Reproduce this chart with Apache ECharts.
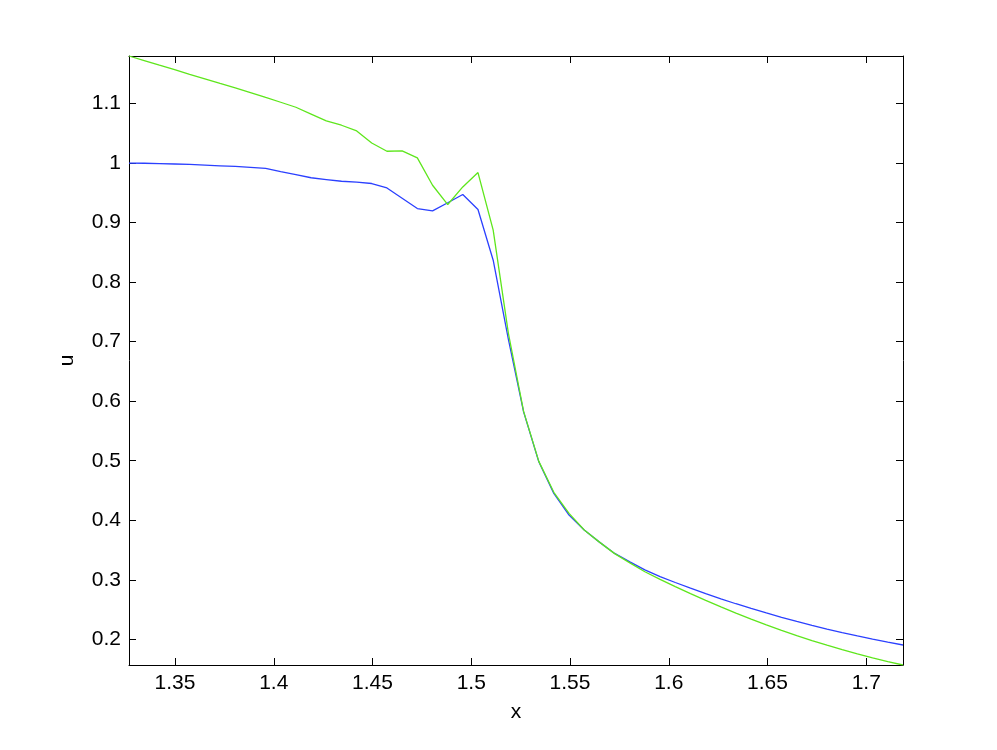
<!DOCTYPE html>
<html>
<head>
<meta charset="utf-8">
<script src="https://cdn.jsdelivr.net/npm/echarts@6/dist/echarts.min.js"></script>
<style>html,body{margin:0;padding:0;background:#fff}#c{width:997px;height:750px}</style>
</head>
<body>
<div id="c"></div>
<script>
const xValues = [1.3267,1.3344,1.3421,1.3498,1.3574,1.3651,1.3728,1.3805,1.3882,1.3959,
  1.4035,1.4112,1.4189,1.4266,1.4343,1.4420,1.4496,1.4573,1.4650,1.4727,
  1.4804,1.4881,1.4957,1.5034,1.5111,1.5188,1.5265,1.5342,1.5418,1.5495,
  1.5572,1.5649,1.5726,1.5803,1.5879,1.5956,1.6033,1.6110,1.6187,1.6264,
  1.6340,1.6417,1.6494,1.6571,1.6648,1.6725,1.6801,1.6878,1.6955,1.7032,
  1.7109,1.7186];
const blueU = [1.0000,0.9997,0.9992,0.9985,0.9977,0.9966,0.9955,0.9944,0.9929,0.9912,
  0.9855,0.9805,0.9754,0.9724,0.9695,0.9679,0.9657,0.9583,0.9410,0.9237,
  0.9197,0.9334,0.9472,0.9220,0.8369,0.7040,0.5820,0.4982,0.4452,0.4087,
  0.3836,0.3633,0.3443,0.3302,0.3168,0.3055,0.2955,0.2860,0.2768,0.2681,
  0.2598,0.2519,0.2443,0.2371,0.2301,0.2235,0.2172,0.2112,0.2058,0.2005,
  0.1954,0.1905];
const greenU = [1.1799,1.1722,1.1645,1.1569,1.1492,1.1416,1.1339,1.1264,1.1185,1.1102,
  1.1022,1.0938,1.0824,1.0708,1.0636,1.0540,1.0338,1.0199,1.0204,1.0087,
  0.9628,0.9304,0.9600,0.9841,0.8873,0.7140,0.5830,0.4990,0.4470,0.4116,
  0.3836,0.3633,0.3440,0.3285,0.3136,0.3008,0.2886,0.2768,0.2655,0.2546,
  0.2441,0.2340,0.2244,0.2152,0.2064,0.1980,0.1901,0.1826,0.1755,0.1689,
  0.1627,0.1569];
const xTicks = [1.35,1.4,1.45,1.5,1.55,1.6,1.65,1.7];
const yTicks = [0.2,0.3,0.4,0.5,0.6,0.7,0.8,0.9,1.0,1.1];
const xRange = [1.3267, 1.7186];
const yRange = [0.1569, 1.1799];

const font = 'Liberation Sans, Arial, Helvetica, sans-serif';
const lineStyleAxis = {color:'#000', width:1};
function axisBase(extra){
  return Object.assign({
    type:'value',
    splitLine:{show:false},
    axisLine:{show:true, onZero:false, lineStyle:lineStyleAxis},
    axisTick:{show:true, inside:true, length:7, lineStyle:lineStyleAxis},
  }, extra);
}
const chart = echarts.init(document.getElementById('c'), null, {renderer:'canvas'});
chart.setOption({
  backgroundColor:'#fff',
  animation:false,
  grid:{left:129, right:94, top:56, bottom:85, containLabel:false},
  xAxis:[
    axisBase({position:'bottom', min:xRange[0], max:xRange[1],
      name:'x', nameLocation:'middle', nameGap:37,
      nameTextStyle:{fontFamily:font, fontSize:21, color:'#000'},
      axisTick:{show:true, inside:true, length:7, lineStyle:lineStyleAxis, customValues:xTicks},
      axisLabel:{show:true, margin:8, fontFamily:font, fontSize:21, color:'#000', customValues:xTicks,
        formatter:v=>String(+v.toFixed(2))}}),
    axisBase({position:'top', min:xRange[0], max:xRange[1],
      axisTick:{show:true, inside:true, length:7, lineStyle:lineStyleAxis, customValues:xTicks},
      axisLabel:{show:false}})
  ],
  yAxis:[
    axisBase({position:'left', min:yRange[0], max:yRange[1],
      name:'u', nameLocation:'middle', nameGap:51,
      nameTextStyle:{fontFamily:font, fontSize:21, color:'#000'},
      axisTick:{show:true, inside:true, length:7, lineStyle:lineStyleAxis, customValues:yTicks},
      axisLabel:{show:true, margin:8, fontFamily:font, fontSize:21, color:'#000', customValues:yTicks,
        formatter:v=>String(+v.toFixed(2))}}),
    axisBase({position:'right', min:yRange[0], max:yRange[1],
      axisTick:{show:true, inside:true, length:7, lineStyle:lineStyleAxis, customValues:yTicks},
      axisLabel:{show:false}})
  ],
  series:[
    {type:'line', name:'blue', data:xValues.map((x,i)=>[x, blueU[i]]),
     showSymbol:false, symbol:'none', lineStyle:{color:'#2b40ff', width:1.3}, clip:true},
    {type:'line', name:'green', data:xValues.map((x,i)=>[x, greenU[i]]),
     showSymbol:false, symbol:'none', lineStyle:{color:'#5ee61c', width:1.3}, clip:true}
  ]
});
</script>
</body>
</html>
